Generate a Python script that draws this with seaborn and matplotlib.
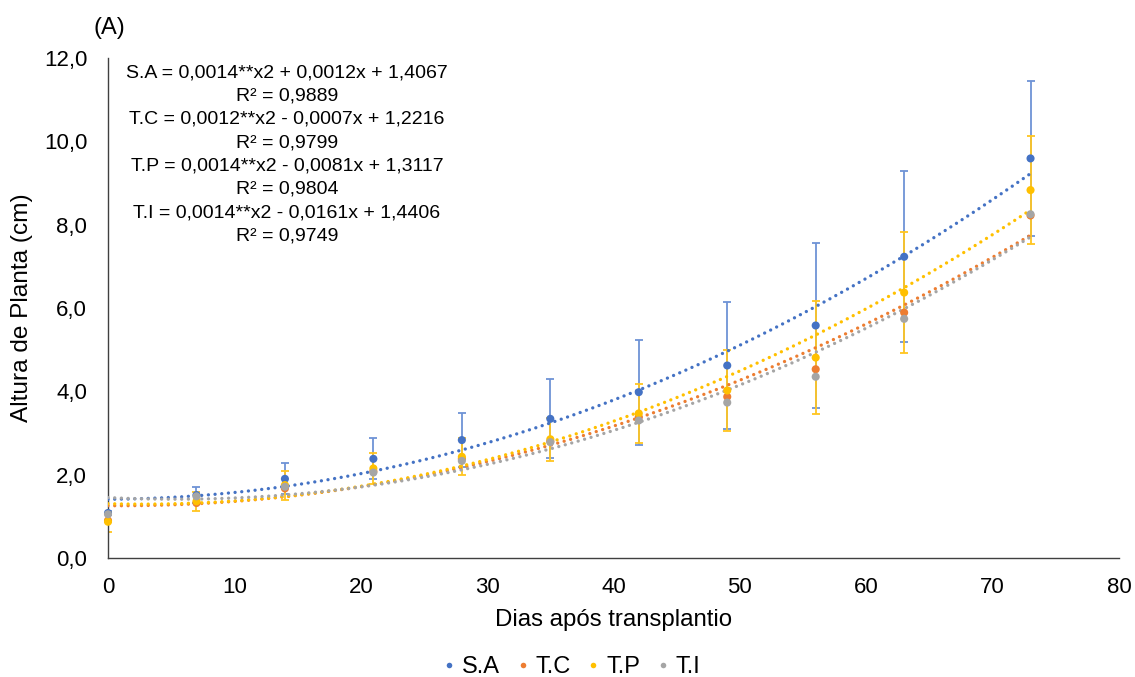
import numpy as np
import pandas as pd
import matplotlib
matplotlib.use("Agg")
import matplotlib.pyplot as plt
from matplotlib.lines import Line2D
import seaborn as sns

# ---------------- data ----------------
days = [0, 7, 14, 21, 28, 35, 42, 49, 56, 63, 73]
series_names = ["S.A", "T.C", "T.P", "T.I"]
sa = [1.08, 1.51, 1.90, 2.38, 2.83, 3.34, 3.98, 4.62, 5.58, 7.23, 9.59]
tc = [0.90, 1.32, 1.67, 2.08, 2.38, 2.80, 3.38, 3.87, 4.53, 5.89, 8.22]
tp = [0.87, 1.36, 1.75, 2.15, 2.43, 2.85, 3.47, 4.02, 4.81, 6.37, 8.83]
ti = [1.05, 1.48, 1.71, 2.05, 2.33, 2.78, 3.30, 3.73, 4.35, 5.74, 8.25]
sa_sd = [0.05, 0.19, 0.37, 0.49, 0.64, 0.95, 1.26, 1.52, 1.97, 2.05, 1.87]
tp_sd = [0.24, 0.23, 0.35, 0.38, 0.44, 0.51, 0.71, 0.97, 1.35, 1.45, 1.30]
equations = [
    "S.A = 0,0014**x2 + 0,0012x + 1,4067",
    "R² = 0,9889",
    "T.C = 0,0012**x2 - 0,0007x + 1,2216",
    "R² = 0,9799",
    "T.P = 0,0014**x2 - 0,0081x + 1,3117",
    "R² = 0,9804",
    "T.I = 0,0014**x2 - 0,0161x + 1,4406",
    "R² = 0,9749",
]
x_ticks = [0, 10, 20, 30, 40, 50, 60, 70, 80]
y_ticks = [0, 2, 4, 6, 8, 10, 12]

colors = {"S.A": "#4472C4", "T.C": "#ED7D31", "T.P": "#FFC000", "T.I": "#A5A5A5"}
values = {"S.A": sa, "T.C": tc, "T.P": tp, "T.I": ti}

df = pd.DataFrame({
    "dias": days * 4,
    "altura": sa + tc + tp + ti,
    "trat": sum([[n] * len(days) for n in series_names], []),
})

# ---------------- figure ----------------
sns.set_theme(style="white")
plt.rcParams["font.family"] = ["Liberation Sans", "DejaVu Sans"]
plt.rcParams["text.color"] = "black"
plt.rcParams["axes.labelcolor"] = "black"

W, H = 1135, 677
fig = plt.figure(figsize=(W / 100, H / 100), dpi=100)
ax = fig.add_axes([108 / W, 1 - 558 / H, (1119 - 108) / W, (558 - 58) / H])

# error bars
ax.errorbar(days, sa, yerr=sa_sd, fmt="none", ecolor="#6E93D6", elinewidth=1.3,
            capsize=2.6, capthick=1.3, zorder=2)
ax.errorbar(days, tp, yerr=tp_sd, fmt="none", ecolor="#FFC520", elinewidth=1.3,
            capsize=2.6, capthick=1.3, zorder=2)

# quadratic trendlines (dotted)
xs = np.linspace(0, max(days), 300)
for n in series_names:
    coef = np.polyfit(days, values[n], 2)
    ax.plot(xs, np.polyval(coef, xs), color=colors[n], lw=2.4,
            linestyle=(0, (0.01, 2.0)), dash_capstyle="round", zorder=3)

# points
sns.scatterplot(data=df, x="dias", y="altura", hue="trat", palette=colors,
                hue_order=series_names, s=34, edgecolor="none", legend=False,
                ax=ax, zorder=4, clip_on=False)

ax.set_xlim(0, 80)
ax.set_ylim(0, 12)
ax.set_xticks(x_ticks)
ax.set_xticklabels([str(t) for t in x_ticks])
ax.set_yticks(y_ticks)
ax.set_yticklabels([f"{t:.1f}".replace(".", ",") for t in y_ticks])
ax.tick_params(axis="both", length=0, labelsize=16, colors="#000000")
ax.tick_params(axis="x", pad=14)
ax.tick_params(axis="y", pad=15)
for s in ["top", "right"]:
    ax.spines[s].set_visible(False)
for s in ["left", "bottom"]:
    ax.spines[s].set_color("#404040")
    ax.spines[s].set_linewidth(1.0)
ax.grid(False)

ax.set_xlabel("Dias após transplantio", fontsize=17.3, va="center")
ax.xaxis.set_label_coords(0.5, (558 - 620) / 500)
ax.set_ylabel("Altura de Planta (cm)", fontsize=17.6, va="center")
ax.yaxis.set_label_coords((22 - 108) / 1011, 0.5)

fig.text(109 / W, 1 - 28 / H, "(A)", ha="center", va="center", fontsize=17)
fig.text(287 / W, 1 - 64 / H, "\n".join(equations), ha="center", va="top",
         multialignment="center", fontsize=14, linespacing=1.49)

handles = [Line2D([], [], marker="o", linestyle="none", markersize=4,
                  markerfacecolor=colors[n], markeredgecolor="none") for n in series_names]
fig.legend(handles, series_names, loc="center", bbox_to_anchor=(572 / W, 1 - 667 / H),
           ncol=4, frameon=False, fontsize=17, handlelength=0.5, handletextpad=0.3,
           columnspacing=0.7, borderpad=0, borderaxespad=0)

fig.savefig("out.png", dpi=100, facecolor="white")
